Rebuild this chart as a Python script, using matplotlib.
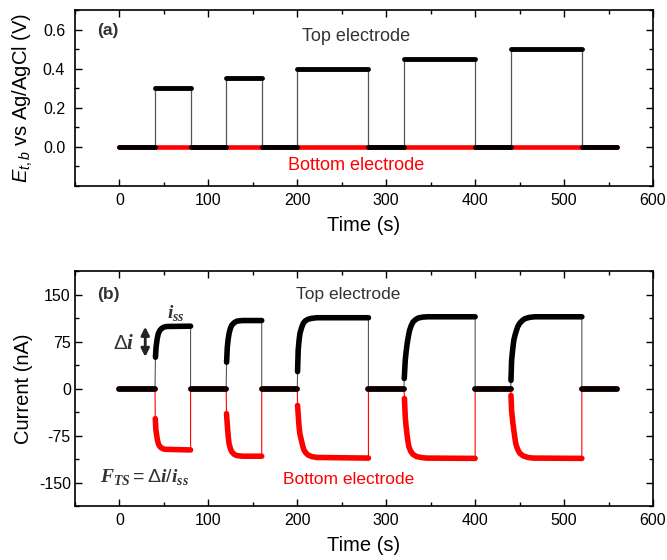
import numpy as np
import matplotlib.pyplot as plt
from matplotlib.ticker import MultipleLocator, FixedLocator

plt.rcParams['font.family'] = ['Liberation Sans', 'DejaVu Sans']
plt.rcParams['axes.unicode_minus'] = False
plt.rcParams['mathtext.fontset'] = 'custom'
plt.rcParams['mathtext.rm'] = 'Liberation Sans'
plt.rcParams['mathtext.it'] = 'Liberation Sans:italic'
plt.rcParams['mathtext.bf'] = 'Liberation Serif:italic:bold'

# (a) applied potential, piecewise constant between step edges
step_edges = [0, 40, 80, 120, 160, 200, 280, 320, 400, 440, 520, 560]
top_potential = [0, 0.30, 0, 0.35, 0, 0.40, 0, 0.45, 0, 0.50, 0]
bottom_potential = [0, 0, 0, 0, 0, 0, 0, 0, 0, 0, 0]

# (b) current transients, one list per pulse
top_t = [
    [40.5, 41.2, 42.5, 43.8, 45.5, 47.6, 50, 53, 80],
    [120.5, 121.3, 122.3, 123.3, 124.8, 126.3, 129, 132, 138, 160],
    [200.3, 201, 202, 203, 204.8, 206.7, 209, 212, 216, 222, 280],
    [320.3, 321.4, 322.5, 323.6, 325, 326.3, 328, 330, 333, 336, 341, 347, 400],
    [440.3, 441, 442.2, 443.5, 445, 446.5, 448, 450, 453, 456, 461, 467, 520],
]
top_i = [
    [50, 66, 80, 88, 93, 96, 98, 99, 99.5],
    [42, 66, 79, 88, 96, 101, 105, 107.5, 108.5, 108.5],
    [27, 61, 77, 88, 97, 104, 108, 110.5, 112, 113, 113],
    [16, 45, 60, 72, 84, 93, 100, 106, 110, 112.5, 114, 114.5, 114.5],
    [13, 45, 62, 77, 86, 93, 99, 104, 108.5, 111.5, 113.5, 114.5, 114.5],
]
bot_t = [
    [40.3, 41, 42.7, 44, 45.7, 48, 51, 80],
    [120.4, 121.7, 122.5, 123.3, 124.8, 126.3, 129, 132, 138, 160],
    [200.3, 202, 203, 204.5, 206, 207.4, 209.5, 212, 216, 222, 280],
    [320.5, 321.4, 322.3, 323.3, 324.4, 325.5, 327.5, 330, 334, 339, 345, 400],
    [440.3, 441, 442.2, 443.5, 444.6, 445.7, 447.5, 450, 454, 459.5, 465, 520],
]
bot_i = [
    [-48, -66, -82, -89, -93, -95.5, -97, -98],
    [-40, -66, -79, -88, -96, -101, -105, -107, -108, -108],
    [-27, -61, -73, -82, -91, -98, -102.5, -106, -108.5, -110, -111],
    [-16, -45, -60, -72, -84, -93, -100, -105, -108.5, -110, -111, -111.5],
    [-11, -35, -52, -66.5, -78, -88, -96, -103, -107.5, -110, -111, -111.5],
]
rest_t = [[0, 40], [80, 120], [160, 200], [280, 320], [400, 440], [520, 560]]

fig = plt.figure(figsize=(6.67, 5.6), dpi=100)
ax1 = fig.add_axes([0.1124, 0.668, 0.8666, 0.314])
ax2 = fig.add_axes([0.1124, 0.0964, 0.8666, 0.4196])

# ---- panel (a)
def steps(vals):
    t, v = [], []
    for k, val in enumerate(vals):
        t += [step_edges[k], step_edges[k + 1]]
        v += [val, val]
    return t, v

tb, vb = steps(bottom_potential)
tt, vt = steps(top_potential)
for k in range(len(bottom_potential)):
    ax1.plot(tb[2*k:2*k+2], vb[2*k:2*k+2], color='red', lw=3.3, solid_capstyle='round', zorder=2)
ax1.plot(tt, vt, color='#555555', lw=0.9, zorder=3)
for k in range(len(top_potential)):
    ax1.plot(tt[2*k:2*k+2], vt[2*k:2*k+2], color='black', lw=3.5, solid_capstyle='round', zorder=4)

ax1.set_xlim(-50, 600)
ax1.set_ylim(-0.2, 0.7)
ax1.yaxis.set_major_locator(FixedLocator([0, 0.2, 0.4, 0.6]))
ax1.yaxis.set_minor_locator(MultipleLocator(0.1))
ax1.yaxis.set_major_formatter(plt.FormatStrFormatter('%.1f'))
ax1.set_xlabel('Time (s)', fontsize=14.5, labelpad=6)
ax1.set_ylabel(r'$E_{t,b}$ vs Ag/AgCl (V)', fontsize=14.5, labelpad=6)
ax1.text(0.038, 0.886, '(a)', transform=ax1.transAxes, fontweight='bold', fontsize=12.5, va='center', color='#333333')
ax1.text(205, 0.565, 'Top electrode', color='#333333', fontsize=13, va='center')
ax1.text(189, -0.096, 'Bottom electrode', color='red', fontsize=13, va='center')

# ---- panel (b)
def trace(ts, vals):
    t, v = [], []
    for k in range(len(rest_t)):
        t += rest_t[k]
        v += [0, 0]
        if k < len(ts):
            t += ts[k]
            v += vals[k]
    return t, v

tb, ib = trace(bot_t, bot_i)
tt, it = trace(top_t, top_i)
ax2.plot(tb, ib, color='red', lw=0.8, zorder=2)
for seg in rest_t:
    ax2.plot(seg, [0, 0], color='red', lw=4, solid_capstyle='round', zorder=2)
for ts, vals in zip(bot_t, bot_i):
    ax2.plot(ts, vals, color='red', lw=4, solid_capstyle='round', zorder=2)
ax2.plot(tt, it, color='#555555', lw=0.8, zorder=3)
for seg in rest_t:
    ax2.plot(seg, [0, 0], color='black', lw=4, solid_capstyle='round', zorder=4)
for ts, vals in zip(top_t, top_i):
    ax2.plot(ts, vals, color='black', lw=4, solid_capstyle='round', zorder=4)

ax2.set_xlim(-50, 600)
ax2.set_ylim(-187.5, 187.5)
ax2.yaxis.set_major_locator(MultipleLocator(75))
ax2.yaxis.set_minor_locator(MultipleLocator(37.5))
ax2.set_xlabel('Time (s)', fontsize=14.5, labelpad=6)
ax2.set_ylabel('Current (nA)', fontsize=14.5, labelpad=4)
ax2.text(0.038, 0.9, '(b)', transform=ax2.transAxes, fontweight='bold', fontsize=12.5, va='center', color='#333333')
ax2.text(199, 150, 'Top electrode', color='#333333', fontsize=12.5, va='center')
ax2.text(184, -145, 'Bottom electrode', color='red', fontsize=12.5, va='center')
ax2.text(53, 121, r'$\mathbf{i}_{\mathbf{ss}}$', fontsize=14, va='center', color='#333333')
ax2.text(-7, 72, r'$\Delta\mathbf{i}$', fontsize=15, va='center', color='#333333')
ax2.annotate('', xy=(29, 46), xytext=(29, 103),
             arrowprops=dict(arrowstyle='<|-|>', lw=2, color='#222222', mutation_scale=12))
ax2.text(-22, -141, r'$\mathbf{F}_{\mathbf{TS}}=\Delta\mathbf{i}/\mathbf{i}_{\mathbf{ss}}$',
         fontsize=14, va='center', color='#333333')

for ax, ypad in ((ax1, 7), (ax2, 3)):
    ax.xaxis.set_major_locator(MultipleLocator(100))
    ax.xaxis.set_minor_locator(MultipleLocator(50))
    ax.tick_params(which='both', direction='in', top=True, right=True, width=1)
    ax.tick_params(which='major', length=5, labelsize=11.5)
    ax.tick_params(which='minor', length=3)
    ax.tick_params(axis='x', pad=5)
    ax.tick_params(axis='y', pad=ypad)
    for s in ax.spines.values():
        s.set_linewidth(1.2)

fig.savefig('out.png', dpi=100)
